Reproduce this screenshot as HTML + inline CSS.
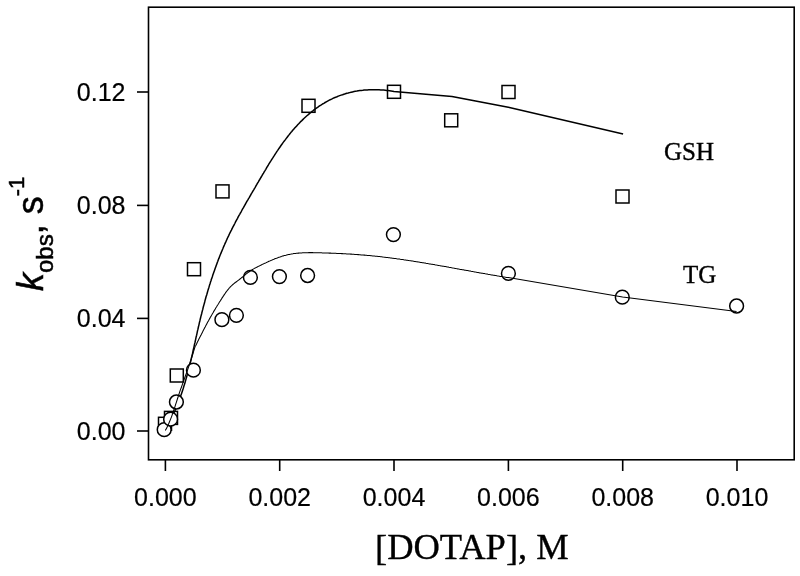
<!DOCTYPE html>
<html><head><meta charset="utf-8"><style>
html,body{margin:0;padding:0;background:#fff;}
svg{display:block;}
.tk{font-family:"Liberation Sans",Arial,sans-serif;font-size:25px;fill:#000;stroke:#000;stroke-width:0.2px;}
.lb{font-family:"Liberation Serif","Times New Roman",serif;font-size:25px;fill:#000;stroke:#000;stroke-width:0.35px;}
.ax{font-family:"Liberation Serif","Times New Roman",serif;font-size:36.5px;fill:#000;stroke:#000;stroke-width:0.35px;}
.yl{font-family:"Liberation Sans",Arial,sans-serif;font-size:36px;fill:#000;stroke:#000;stroke-width:0.5px;}
</style></head><body>
<svg width="800" height="576" viewBox="0 0 800 576">
<rect x="148.5" y="7.2" width="645.7" height="452.6" fill="none" stroke="#000" stroke-width="1.6"/>
<line x1="137" y1="431.0" x2="148.5" y2="431.0" stroke="#000" stroke-width="1.6"/>
<text x="125.5" y="439.9" class="tk" text-anchor="end">0.00</text>
<line x1="137" y1="318.4" x2="148.5" y2="318.4" stroke="#000" stroke-width="1.6"/>
<text x="125.5" y="327.3" class="tk" text-anchor="end">0.04</text>
<line x1="137" y1="205.4" x2="148.5" y2="205.4" stroke="#000" stroke-width="1.6"/>
<text x="125.5" y="214.3" class="tk" text-anchor="end">0.08</text>
<line x1="137" y1="92.0" x2="148.5" y2="92.0" stroke="#000" stroke-width="1.6"/>
<text x="125.5" y="100.9" class="tk" text-anchor="end">0.12</text>
<line x1="165.4" y1="459.8" x2="165.4" y2="471" stroke="#000" stroke-width="1.6"/>
<text x="165.4" y="505.5" class="tk" text-anchor="middle">0.000</text>
<line x1="279.7" y1="459.8" x2="279.7" y2="471" stroke="#000" stroke-width="1.6"/>
<text x="279.7" y="505.5" class="tk" text-anchor="middle">0.002</text>
<line x1="394.0" y1="459.8" x2="394.0" y2="471" stroke="#000" stroke-width="1.6"/>
<text x="394.0" y="505.5" class="tk" text-anchor="middle">0.004</text>
<line x1="508.4" y1="459.8" x2="508.4" y2="471" stroke="#000" stroke-width="1.6"/>
<text x="508.4" y="505.5" class="tk" text-anchor="middle">0.006</text>
<line x1="622.7" y1="459.8" x2="622.7" y2="471" stroke="#000" stroke-width="1.6"/>
<text x="622.7" y="505.5" class="tk" text-anchor="middle">0.008</text>
<line x1="737.0" y1="459.8" x2="737.0" y2="471" stroke="#000" stroke-width="1.6"/>
<text x="737.0" y="505.5" class="tk" text-anchor="middle">0.010</text>
<rect x="158.50" y="417.30" width="13.0" height="13.0" fill="#fff" stroke="#000" stroke-width="1.5"/>
<rect x="164.50" y="411.40" width="13.0" height="13.0" fill="#fff" stroke="#000" stroke-width="1.5"/>
<rect x="170.30" y="369.00" width="13.0" height="13.0" fill="#fff" stroke="#000" stroke-width="1.5"/>
<rect x="187.50" y="262.70" width="13.0" height="13.0" fill="#fff" stroke="#000" stroke-width="1.5"/>
<rect x="216.00" y="184.90" width="13.0" height="13.0" fill="#fff" stroke="#000" stroke-width="1.5"/>
<rect x="302.00" y="99.30" width="13.0" height="13.0" fill="#fff" stroke="#000" stroke-width="1.5"/>
<rect x="387.50" y="85.30" width="13.0" height="13.0" fill="#fff" stroke="#000" stroke-width="1.5"/>
<rect x="444.70" y="113.80" width="13.0" height="13.0" fill="#fff" stroke="#000" stroke-width="1.5"/>
<rect x="502.00" y="85.50" width="13.0" height="13.0" fill="#fff" stroke="#000" stroke-width="1.5"/>
<rect x="616.00" y="190.00" width="13.0" height="13.0" fill="#fff" stroke="#000" stroke-width="1.5"/>
<polyline points="164.6,430.4 165.4,429.1 166.2,427.8 167.0,426.5 167.7,425.2 168.4,423.9 169.1,422.5 169.8,421.2 170.5,419.9 171.2,418.6 171.9,417.2 172.5,415.9 173.1,414.5 173.8,413.2 174.4,411.8 175.0,410.5 175.6,409.1 176.2,407.7 176.7,406.4 177.3,405.0 177.8,403.6 178.4,402.3 178.9,400.9 179.4,399.5 179.9,398.1 180.4,396.7 180.9,395.3 181.4,393.9 181.9,392.5 182.4,391.1 182.8,389.7 183.3,388.3 183.7,386.9 184.1,385.5 184.6,384.1 185.0,382.7 185.4,381.3 185.8,379.9 186.2,378.4 186.6,377.0 187.0,375.6 187.4,374.2 187.8,372.7 188.2,371.3 188.5,369.9 188.9,368.4 189.3,367.0 189.6,365.6 190.0,364.1 190.3,362.7 190.7,361.3 191.0,359.8 191.3,358.4 191.7,356.9 192.0,355.5 192.4,354.0 192.7,352.6 193.0,351.1 193.3,349.7 193.7,348.3 194.0,346.8 194.3,345.4 194.6,343.9 195.0,342.5 195.3,341.0 195.6,339.6 195.9,338.1 196.2,336.7 196.6,335.2 196.9,333.8 197.2,332.3 197.5,330.9 197.9,329.4 198.2,328.0 198.5,326.5 198.9,325.1 199.2,323.6 199.5,322.2 199.9,320.7 200.2,319.3 200.6,317.8 200.9,316.4 201.3,315.0 201.7,313.5 202.0,312.1 202.4,310.6 202.8,309.2 203.1,307.8 203.5,306.3 203.9,304.9 204.3,303.5 204.7,302.0 205.0,300.6 205.4,299.2 205.8,297.7 206.2,296.3 206.7,294.9 207.1,293.5 207.5,292.0 207.9,290.6 208.3,289.2 208.8,287.8 209.2,286.4 209.6,284.9 210.1,283.5 210.5,282.1 211.0,280.7 211.4,279.3 211.9,277.9 212.4,276.5 212.8,275.1 213.3,273.7 213.8,272.3 214.3,270.9 214.8,269.5 215.3,268.1 215.8,266.7 216.3,265.3 216.8,263.9 217.3,262.5 217.8,261.2 218.3,259.8 218.9,258.4 219.4,257.0 219.9,255.7 220.5,254.3 221.1,252.9 221.6,251.6 222.2,250.2 222.8,248.8 223.3,247.5 223.9,246.1 224.5,244.8 225.1,243.4 225.7,242.1 226.3,240.7 226.9,239.4 227.5,238.0 228.2,236.7 228.8,235.4 229.4,234.0 230.1,232.7 230.7,231.4 231.4,230.1 232.1,228.7 232.7,227.4 233.4,226.1 234.1,224.8 234.8,223.5 235.4,222.2 236.1,220.9 236.8,219.6 237.5,218.3 238.2,216.9 238.9,215.6 239.7,214.3 240.4,213.0 241.1,211.8 241.8,210.5 242.5,209.2 243.3,207.9 244.0,206.6 244.7,205.3 245.5,204.0 246.2,202.7 246.9,201.4 247.7,200.1 248.4,198.8 249.2,197.6 249.9,196.3 250.7,195.0 251.4,193.7 252.2,192.4 252.9,191.1 253.7,189.8 254.4,188.6 255.2,187.3 255.9,186.0 256.7,184.7 257.4,183.4 258.2,182.1 258.9,180.8 259.7,179.5 260.4,178.3 261.2,177.0 262.0,175.7 262.7,174.4 263.5,173.1 264.2,171.8 265.0,170.6 265.8,169.3 266.5,168.0 267.3,166.7 268.1,165.5 268.8,164.2 269.6,162.9 270.4,161.6 271.2,160.4 272.0,159.1 272.8,157.9 273.6,156.6 274.4,155.4 275.2,154.1 276.0,152.9 276.8,151.6 277.7,150.4 278.5,149.2 279.3,148.0 280.2,146.7 281.0,145.5 281.9,144.3 282.7,143.1 283.6,141.9 284.5,140.7 285.4,139.6 286.3,138.4 287.2,137.2 288.1,136.0 289.0,134.9 289.9,133.7 290.8,132.6 291.8,131.5 292.7,130.3 293.7,129.2 294.7,128.1 295.7,127.0 296.7,125.9 297.7,124.8 298.7,123.8 299.7,122.7 300.7,121.6 301.8,120.6 302.8,119.6 303.9,118.5 305.0,117.5 306.1,116.5 307.2,115.5 308.3,114.6 309.4,113.6 310.6,112.7 311.7,111.7 312.9,110.8 314.0,109.9 315.2,109.0 316.4,108.1 317.6,107.3 318.8,106.4 320.0,105.6 321.3,104.8 322.5,104.0 323.8,103.3 325.1,102.5 326.3,101.8 327.6,101.1 328.9,100.4 330.2,99.7 331.6,99.1 332.9,98.4 334.3,97.8 335.6,97.3 337.0,96.7 338.3,96.1 339.7,95.6 341.1,95.1 342.5,94.7 343.9,94.2 345.3,93.8 346.8,93.3 348.2,93.0 349.6,92.6 351.1,92.2 352.5,91.9 354.0,91.6 355.4,91.3 356.9,91.1 358.4,90.8 359.9,90.6 361.3,90.4 362.8,90.3 364.3,90.1 365.8,90.0 367.3,89.9 368.8,89.8 370.3,89.7 371.7,89.7 373.2,89.7 374.7,89.7 376.2,89.7 377.7,89.7 379.2,89.8 380.7,89.9 382.2,90.0 383.7,90.1 385.2,90.2 386.7,90.4 388.1,90.6 389.6,90.8 391.1,91.0 392.6,91.2 394.0,91.5 452.0,96.4 508.3,107.2 623.1,134.0" fill="none" stroke="#000" stroke-width="1.5" stroke-linejoin="round"/>
<circle cx="164.20" cy="429.70" r="6.9" fill="#fff" stroke="#000" stroke-width="1.5"/>
<circle cx="170.60" cy="419.20" r="6.9" fill="#fff" stroke="#000" stroke-width="1.5"/>
<circle cx="176.40" cy="402.00" r="6.9" fill="#fff" stroke="#000" stroke-width="1.5"/>
<circle cx="193.40" cy="370.20" r="6.9" fill="#fff" stroke="#000" stroke-width="1.5"/>
<circle cx="221.90" cy="319.70" r="6.9" fill="#fff" stroke="#000" stroke-width="1.5"/>
<circle cx="236.40" cy="315.30" r="6.9" fill="#fff" stroke="#000" stroke-width="1.5"/>
<circle cx="250.40" cy="277.40" r="6.9" fill="#fff" stroke="#000" stroke-width="1.5"/>
<circle cx="279.40" cy="276.60" r="6.9" fill="#fff" stroke="#000" stroke-width="1.5"/>
<circle cx="307.60" cy="275.50" r="6.9" fill="#fff" stroke="#000" stroke-width="1.5"/>
<circle cx="393.40" cy="234.60" r="6.9" fill="#fff" stroke="#000" stroke-width="1.5"/>
<circle cx="508.40" cy="273.40" r="6.9" fill="#fff" stroke="#000" stroke-width="1.5"/>
<circle cx="622.30" cy="297.20" r="6.9" fill="#fff" stroke="#000" stroke-width="1.5"/>
<circle cx="736.60" cy="306.00" r="6.9" fill="#fff" stroke="#000" stroke-width="1.5"/>
<polyline points="165.3,430.6 166.7,427.9 168.1,425.1 169.3,422.3 170.5,419.4 171.6,416.6 172.6,413.7 173.6,410.7 174.6,407.8 175.5,404.9 176.5,401.9 177.4,399.0 178.4,396.0 179.3,393.1 180.3,390.2 181.4,387.2 182.4,384.3 183.4,381.4 184.5,378.5 185.5,375.6 186.6,372.7 187.6,369.8 188.6,366.9 189.6,364.0 190.6,361.0 191.6,358.1 192.5,355.1 193.4,352.2 194.3,349.2 195.2,346.3 195.8,345.5 196.2,344.7 196.6,343.9 197.0,343.1 197.3,342.3 197.7,341.5 198.1,340.7 198.5,339.9 198.9,339.1 199.3,338.3 199.7,337.5 200.1,336.7 200.5,335.9 201.0,335.1 201.4,334.3 201.8,333.5 202.2,332.7 202.6,331.9 203.0,331.1 203.4,330.3 203.8,329.5 204.2,328.7 204.6,327.9 205.1,327.1 205.5,326.3 205.9,325.5 206.3,324.7 206.8,323.9 207.2,323.1 207.6,322.3 208.0,321.6 208.5,320.8 208.9,320.0 209.3,319.2 209.8,318.4 210.2,317.6 210.6,316.9 211.1,316.1 211.5,315.3 212.0,314.5 212.4,313.7 212.9,313.0 213.3,312.2 213.8,311.4 214.2,310.6 214.7,309.9 215.2,309.1 215.6,308.3 216.1,307.5 216.6,306.8 217.0,306.0 217.5,305.2 218.0,304.5 218.5,303.7 218.9,302.9 219.4,302.2 219.9,301.4 220.4,300.7 220.9,299.9 221.4,299.1 221.8,298.4 222.3,297.6 222.8,296.9 223.3,296.1 223.8,295.4 224.3,294.6 224.8,293.9 225.3,293.2 225.8,292.4 226.4,291.7 226.9,291.0 227.4,290.3 228.0,289.6 228.6,288.9 229.1,288.2 229.7,287.6 230.3,286.9 230.9,286.3 231.6,285.7 232.2,285.1 232.9,284.5 233.6,283.9 234.3,283.3 235.0,282.8 235.7,282.2 236.4,281.7 237.1,281.2 237.9,280.6 238.6,280.1 239.3,279.5 240.0,279.0 240.7,278.4 241.5,277.8 242.2,277.3 242.9,276.7 243.6,276.1 244.3,275.6 245.0,275.0 245.6,274.4 246.3,273.9 247.0,273.3 247.7,272.8 248.5,272.2 249.2,271.7 249.9,271.2 250.6,270.7 251.4,270.2 252.1,269.7 252.9,269.3 253.6,268.9 254.4,268.4 255.2,268.0 256.0,267.6 256.8,267.2 257.6,266.8 258.4,266.4 259.2,266.0 260.0,265.6 260.8,265.2 261.6,264.8 262.4,264.4 263.2,264.0 264.0,263.6 264.8,263.2 265.7,262.9 266.5,262.5 267.3,262.1 268.1,261.7 268.9,261.3 269.8,261.0 270.6,260.6 271.4,260.2 272.3,259.9 273.1,259.5 273.9,259.2 274.8,258.8 275.6,258.5 276.5,258.2 277.3,257.9 278.2,257.6 279.0,257.3 279.9,257.0 280.7,256.7 281.6,256.4 282.4,256.1 283.3,255.9 284.1,255.6 285.0,255.4 285.9,255.2 286.7,255.0 287.6,254.8 288.5,254.6 289.4,254.4 290.2,254.2 291.1,254.1 292.0,253.9 292.9,253.8 293.7,253.6 294.6,253.5 295.5,253.4 296.4,253.3 297.3,253.2 298.2,253.1 299.1,253.1 300.0,253.0 300.8,252.9 301.7,252.9 302.6,252.8 303.5,252.8 304.4,252.7 305.3,252.7 306.2,252.7 307.1,252.7 308.0,252.7 308.9,252.6 309.8,252.6 310.7,252.6 311.6,252.6 312.5,252.6 313.4,252.7 314.3,252.7 315.2,252.7 316.1,252.7 317.0,252.7 317.9,252.7 318.8,252.8 319.7,252.8 320.6,252.8 321.5,252.8 322.4,252.9 323.3,252.9 324.2,252.9 325.1,252.9 326.0,253.0 326.9,253.0 327.8,253.0 328.7,253.1 329.6,253.1 330.5,253.1 331.4,253.2 332.3,253.2 333.2,253.2 334.1,253.3 335.0,253.3 335.9,253.3 336.8,253.4 337.7,253.4 338.6,253.5 339.5,253.5 340.4,253.5 341.3,253.6 342.2,253.6 343.1,253.7 344.0,253.7 344.9,253.8 345.8,253.8 346.7,253.9 347.6,253.9 348.5,254.0 349.4,254.0 350.3,254.1 351.2,254.1 352.1,254.2 353.0,254.3 353.9,254.3 354.8,254.4 355.7,254.4 356.6,254.5 357.5,254.6 358.3,254.6 359.2,254.7 360.1,254.8 361.0,254.9 361.9,254.9 362.8,255.0 363.7,255.1 364.6,255.1 365.5,255.2 366.4,255.3 367.3,255.4 368.2,255.5 369.1,255.5 370.0,255.6 370.9,255.7 371.8,255.8 372.6,255.9 373.5,256.0 374.4,256.1 375.3,256.2 376.2,256.3 377.1,256.3 378.0,256.4 378.9,256.5 379.8,256.6 380.7,256.7 381.6,256.8 382.5,256.9 383.3,257.1 384.2,257.2 385.1,257.3 386.0,257.4 386.9,257.5 387.8,257.6 388.7,257.7 389.6,257.8 390.5,257.9 391.4,258.0 392.2,258.2 393.1,258.3 394.0,258.4 394.9,258.5 395.8,258.6 396.7,258.8 397.6,258.9 398.5,259.0 399.4,259.1 400.3,259.3 401.1,259.4 402.0,259.5 402.9,259.6 403.8,259.8 404.7,259.9 405.6,260.0 406.5,260.2 407.4,260.3 408.2,260.4 409.1,260.6 410.0,260.7 410.9,260.8 411.8,261.0 412.7,261.1 413.6,261.2 414.5,261.4 415.3,261.5 416.2,261.7 417.1,261.8 418.0,262.0 418.9,262.1 419.8,262.2 420.7,262.4 421.6,262.5 422.4,262.7 423.3,262.8 424.2,263.0 425.1,263.1 426.0,263.3 426.9,263.4 427.8,263.6 428.7,263.7 429.5,263.9 430.4,264.0 431.3,264.2 432.2,264.3 433.1,264.5 434.0,264.6 434.9,264.8 435.7,264.9 436.6,265.1 437.5,265.2 438.4,265.4 439.3,265.6 440.2,265.7 441.1,265.9 441.9,266.0 442.8,266.2 443.7,266.3 444.6,266.5 445.5,266.6 446.4,266.8 447.2,267.0 448.1,267.1 449.0,267.3 449.9,267.4 450.8,267.6 451.7,267.8 452.6,267.9 453.4,268.1 454.3,268.2 455.2,268.4 456.1,268.6 457.0,268.7 457.9,268.9 458.8,269.0 459.6,269.2 460.5,269.4 461.4,269.5 462.3,269.7 463.2,269.8 464.1,270.0 464.9,270.2 465.8,270.3 466.7,270.5 467.6,270.6 468.5,270.8 469.4,271.0 470.3,271.1 471.1,271.3 472.0,271.4 472.9,271.6 473.8,271.7 474.7,271.9 475.6,272.1 476.4,272.2 477.3,272.4 478.2,272.5 479.1,272.7 480.0,272.9 480.9,273.0 481.7,273.2 482.6,273.3 483.5,273.5 484.4,273.6 485.3,273.8 486.2,273.9 487.1,274.1 487.9,274.3 488.8,274.4 489.7,274.6 490.6,274.7 491.5,274.9 492.4,275.0 493.2,275.2 494.1,275.3 495.0,275.5 495.9,275.6 496.8,275.8 497.7,275.9 498.5,276.1 499.4,276.2 500.3,276.4 501.2,276.5 502.1,276.6 503.0,276.8 503.9,276.9 504.7,277.1 505.6,277.2 506.5,277.4 507.4,277.5 508.3,277.6 622.6,297.0 736.6,311.6" fill="none" stroke="#000" stroke-width="1.05" stroke-linejoin="round"/>
<text x="664" y="159.8" class="lb">GSH</text>
<text x="683" y="282.7" class="lb">TG</text>
<text x="375" y="559.2" class="ax"><tspan dy="1.2">[</tspan><tspan dy="-1.2">DOTAP</tspan><tspan dy="1.2">]</tspan><tspan dy="-1.2">, M</tspan></text>
<g transform="translate(42.8,291) rotate(-90)"><text class="yl" x="0" y="0"><tspan font-style="italic">k</tspan><tspan font-size="24" dy="10.6">obs</tspan><tspan dy="-10.6">, s</tspan><tspan font-size="22" dy="-18.4">-1</tspan></text></g>
</svg>
</body></html>
